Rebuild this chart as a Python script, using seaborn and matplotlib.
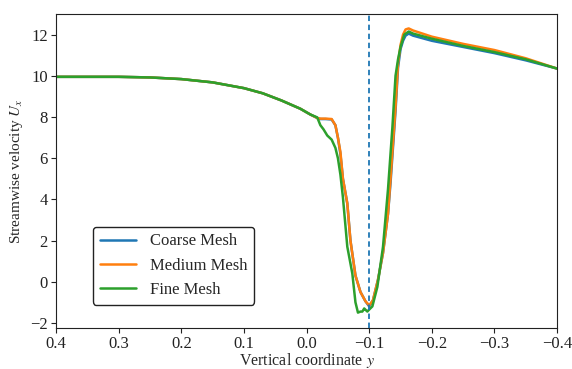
import numpy as np
import pandas as pd
import matplotlib
matplotlib.use("Agg")
import matplotlib.pyplot as plt
import seaborn as sns

# vertical coordinate y and streamwise velocity per mesh
coarse_y = [0.4, 0.3, 0.25, 0.2, 0.15, 0.1, 0.07, 0.04, 0.01, -0.006, -0.017,
            -0.022, -0.03, -0.04, -0.046, -0.05, -0.054, -0.058, -0.065, -0.07,
            -0.078, -0.086, -0.094, -0.1, -0.106, -0.114, -0.122, -0.13, -0.134,
            -0.142, -0.146, -0.15, -0.154, -0.158, -0.163, -0.17, -0.2, -0.25,
            -0.3, -0.35, -0.4]
coarse_u = [9.95, 9.95, 9.92, 9.84, 9.68, 9.4, 9.15, 8.8, 8.4, 8.12, 7.95,
            7.9, 7.9, 7.88, 7.6, 7.0, 6.2, 5.0, 3.8, 2.0,
            0.3, -0.5, -0.95, -1.2, -0.9, 0.1, 1.4, 3.3, 4.8,
            8.3, 10.4, 11.3, 11.7, 11.95, 12.05, 11.95, 11.7, 11.4,
            11.1, 10.75, 10.35]

medium_y = coarse_y
medium_u = [9.95, 9.95, 9.92, 9.84, 9.68, 9.4, 9.15, 8.8, 8.4, 8.12, 7.95,
            7.92, 7.92, 7.9, 7.6, 7.0, 6.3, 5.0, 3.8, 2.0,
            0.3, -0.5, -0.95, -1.15, -0.9, 0.1, 1.4, 3.3, 5.0,
            8.5, 10.6, 11.5, 12.0, 12.25, 12.3, 12.2, 11.9, 11.55,
            11.25, 10.85, 10.35]

fine_y = [0.4, 0.3, 0.25, 0.2, 0.15, 0.1, 0.07, 0.04, 0.01, -0.006, -0.017,
          -0.022, -0.027, -0.033, -0.04, -0.046, -0.05, -0.054, -0.058, -0.065,
          -0.073, -0.078, -0.082, -0.086, -0.089, -0.092, -0.094, -0.097, -0.1,
          -0.105, -0.113, -0.122, -0.13, -0.137, -0.142, -0.146, -0.15, -0.156,
          -0.163, -0.17, -0.2, -0.25, -0.3, -0.35, -0.4]
fine_u = [9.95, 9.95, 9.92, 9.84, 9.68, 9.4, 9.15, 8.8, 8.4, 8.12, 7.98,
          7.6, 7.4, 7.1, 6.9, 6.5, 6.0, 5.2, 4.1, 1.7,
          0.4, -1.0, -1.5, -1.45, -1.45, -1.3, -1.36, -1.45, -1.35,
          -1.2, -0.25, 1.7, 4.5, 7.5, 10.0, 10.8, 11.4, 12.0,
          12.15, 12.05, 11.8, 11.45, 11.15, 10.8, 10.35]

labels = ["Coarse Mesh", "Medium Mesh", "Fine Mesh"]
shock_y = -0.1

df = pd.concat([
    pd.DataFrame({"y": coarse_y, "U": coarse_u, "mesh": labels[0]}),
    pd.DataFrame({"y": medium_y, "U": medium_u, "mesh": labels[1]}),
    pd.DataFrame({"y": fine_y, "U": fine_u, "mesh": labels[2]}),
])

sns.set_style("ticks")
plt.rcParams["font.family"] = ["Liberation Serif", "DejaVu Serif"]
plt.rcParams["mathtext.fontset"] = "stix"

fig, ax = plt.subplots(figsize=(5.72, 3.69), dpi=100)
fig.subplots_adjust(left=0.098, right=0.974, top=0.962, bottom=0.111)

palette = ["#1f77b4", "#ff7f0e", "#2ca02c"]
sns.lineplot(data=df, x="y", y="U", hue="mesh", hue_order=labels,
             palette=palette, estimator=None, sort=True, linewidth=1.8, ax=ax)

ax.axvline(shock_y, color="#1f77b4", linestyle=(0, (3, 2)), linewidth=1.3)

ax.set_xlim(0.4, -0.4)
ax.set_ylim(-2.25, 13)
ax.set_xticks(np.round(np.arange(0.4, -0.41, -0.1), 1))
ax.set_yticks(range(-2, 13, 2))
ax.tick_params(labelsize=12, colors="#222222", pad=2.5)
for s in ax.spines.values():
    s.set_color("#222222")

ax.set_xlabel("Vertical coordinate $y$", fontsize=11.5, labelpad=-1)
ax.set_ylabel("Streamwise velocity $U_x$", fontsize=11)

leg = ax.legend(loc="lower left", bbox_to_anchor=(0.074, 0.074),
                borderaxespad=0, fontsize=12, frameon=True, fancybox=True,
                handlelength=2.2)
leg.get_frame().set_edgecolor("#222222")
leg.get_frame().set_alpha(1)

fig.savefig("out.png", dpi=100)
